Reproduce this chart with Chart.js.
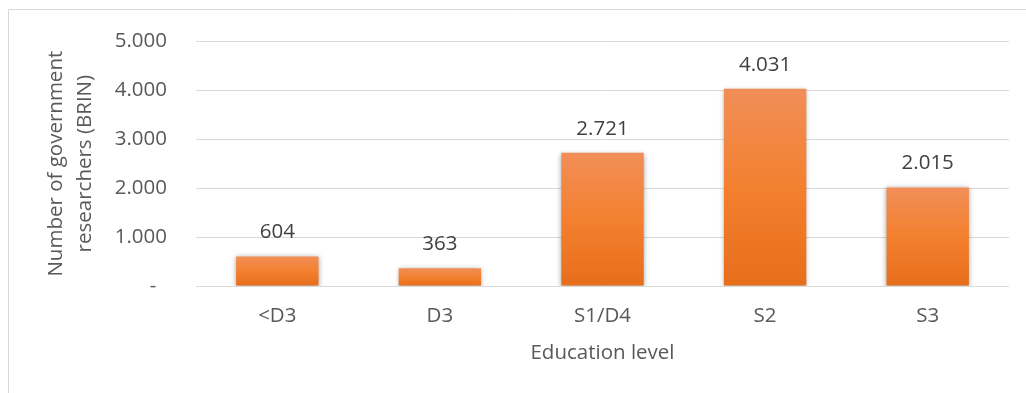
<!DOCTYPE html>
<html>
<head>
<meta charset="utf-8">
<script src="https://cdn.jsdelivr.net/npm/chart.js@4.4.1/dist/chart.umd.min.js"></script>
<style>
  html, body { margin: 0; padding: 0; background: #ffffff; }
  #wrap { width: 1026px; height: 393px; position: relative; }
</style>
</head>
<body>
<div id="wrap"><canvas id="c" width="1026" height="393"></canvas></div>
<script>
const categories = ['<D3', 'D3', 'S1/D4', 'S2', 'S3'];
const researchers = [604, 363, 2721, 4031, 2015];
const yTickValues = [0, 1000, 2000, 3000, 4000, 5000];
const yTickLabels = ['-  ', '1.000', '2.000', '3.000', '4.000', '5.000'];
const yTitle = ['Number of government', 'researchers (BRIN)'];
const xTitle = 'Education level';

const FONT = "'Open Sans', 'Noto Sans', sans-serif";
const TEXT = '#595959';
const FS = 20.5;

function fmt(v) {
  return String(v).replace(/\B(?=(\d{3})+(?!\d))/g, '.');
}

function barFill(ctx) {
  const chart = ctx.chart;
  if (!chart.chartArea || !ctx.parsed) return '#F07F2E';
  const ys = chart.scales.y;
  const top = ys.getPixelForValue(ctx.parsed.y);
  const bot = ys.getPixelForValue(0);
  const g = chart.ctx.createLinearGradient(0, top, 0, bot);
  g.addColorStop(0, '#F18E58');
  g.addColorStop(0.5, '#F3802F');
  g.addColorStop(1, '#E76E1B');
  return g;
}

const frame = {
  id: 'frame',
  beforeDraw(chart) {
    const c = chart.ctx;
    c.save();
    c.fillStyle = '#ffffff';
    c.fillRect(0, 0, chart.width, chart.height);
    c.strokeStyle = '#d9d9d9';
    c.lineWidth = 1;
    c.beginPath();
    c.moveTo(8.5, chart.height);
    c.lineTo(8.5, 9.5);
    c.lineTo(chart.width, 9.5);
    c.stroke();
    c.restore();
  }
};

const shadow = {
  id: 'shadow',
  beforeDatasetDraw(chart) {
    const c = chart.ctx;
    c.save();
    c.shadowColor = 'rgba(0,0,0,0.35)';
    c.shadowBlur = 5;
    c.shadowOffsetX = 0;
    c.shadowOffsetY = 1;
  },
  afterDatasetDraw(chart) {
    chart.ctx.restore();
  }
};

const labels = {
  id: 'valueLabels',
  afterDatasetsDraw(chart) {
    const c = chart.ctx;
    const meta = chart.getDatasetMeta(0);
    c.save();
    c.font = FS + 'px ' + FONT;
    c.fillStyle = '#404040';
    c.textAlign = 'center';
    c.textBaseline = 'alphabetic';
    meta.data.forEach((bar, i) => {
      c.fillText(fmt(chart.data.datasets[0].data[i]), bar.x, bar.y - 18);
    });
    c.restore();
  }
};

new Chart(document.getElementById('c'), {
  type: 'bar',
  data: {
    labels: categories,
    datasets: [{
      data: researchers,
      backgroundColor: barFill,
      borderWidth: 0,
      categoryPercentage: 1,
      barPercentage: 0.507
    }]
  },
  options: {
    responsive: false,
    animation: false,
    devicePixelRatio: 1,
    layout: { padding: { left: 0, top: 38.5, right: 17, bottom: 0 } },
    plugins: { legend: { display: false }, tooltip: { enabled: false } },
    scales: {
      x: {
        grid: { display: false, drawTicks: false },
        border: { display: false },
        ticks: { color: TEXT, font: { family: FONT, size: FS }, padding: 18, maxRotation: 0 },
        title: { display: true, text: xTitle, color: TEXT, font: { family: FONT, size: FS }, padding: { top: 0, bottom: 28 } },
        afterFit(s) { s.height = 107; }
      },
      y: {
        min: 0, max: 5000,
        grid: { color: '#d9d9d9', lineWidth: 1, drawTicks: false },
        border: { display: false },
        afterBuildTicks(s) { s.ticks = yTickValues.map(v => ({ value: v })); },
        ticks: {
          color: TEXT, font: { family: FONT, size: FS }, padding: 29,
          callback(v) { const i = yTickValues.indexOf(v); return i >= 0 ? yTickLabels[i] : ''; }
        },
        title: { display: true, text: yTitle, color: TEXT, font: { family: FONT, size: FS, lineHeight: 1.44 }, padding: { top: 41, bottom: 0 } },
        afterFit(s) { s.width = 196; }
      }
    }
  },
  plugins: [frame, shadow, labels]
});
</script>
</body>
</html>
